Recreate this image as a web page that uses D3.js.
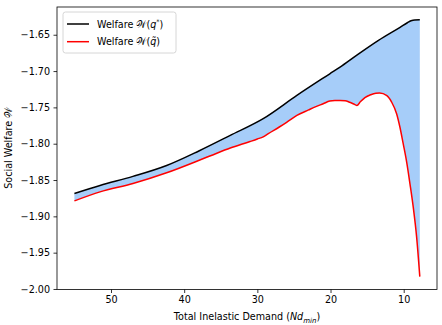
<!DOCTYPE html>
<html>
<head>
<meta charset="utf-8">
<script src="https://cdn.jsdelivr.net/npm/d3@7"></script>
<style>
  body { margin: 0; background: #fff; }
  text { font-family: "DejaVu Sans", sans-serif; }
</style>
</head>
<body>
<svg id="welfare-chart" width="442" height="325"></svg>
<script>
// welfare curves, x = total inelastic demand
const optX = [55, 51.5, 47, 42.4, 38, 33.7, 29.2, 24.6, 20.1, 18.7, 16.4, 13.5, 10.5, 9.5, 9.0, 8.5, 7.8];
const optW = [-1.8685, -1.8575, -1.845, -1.830, -1.810, -1.7885, -1.7655, -1.7335, -1.7037, -1.6945, -1.678, -1.658, -1.6397, -1.6335, -1.6308, -1.6296, -1.6295];

const estX = [55, 51.5, 47, 42.4, 36.5, 33.7, 31, 30, 29.2, 28.5, 27, 26, 24.6, 23, 22, 21, 20.1, 19.4, 18.7, 18, 17.5, 16.9, 16.4,
              15.9, 15.3, 14.5, 13.8, 13.3, 12.3, 11.65, 10.97, 10.52, 10.07, 9.6, 9.15, 8.7, 8.24, 7.8];
const estW = [-1.8787, -1.8663, -1.8548, -1.840, -1.817, -1.806, -1.797, -1.7935, -1.7905, -1.786, -1.777, -1.7705, -1.761, -1.7535, -1.749, -1.745, -1.7413, -1.7405, -1.7404, -1.741, -1.7425, -1.745, -1.7473,
              -1.742, -1.7365, -1.7325, -1.7305, -1.7302, -1.7338, -1.7427, -1.7587, -1.777, -1.800, -1.825, -1.8548, -1.887, -1.928, -1.983];

const xTicks = [50, 40, 30, 20, 10];
const yTicks = [-2.00, -1.95, -1.90, -1.85, -1.80, -1.75, -1.70, -1.65];

let svg = d3.select("#welfare-chart");
const mLeft = 57, mRight = 437, mTop = 7, mBottom = 289.5;

let x = d3.scaleLinear().domain([57.38, 5.45]).range([mLeft, mRight]);
let y = d3.scaleLinear().domain([-2.0007, -1.6118]).range([mBottom, mTop]);

let optLine = optX.map((v, i) => [v, optW[i]]);
let estLine = estX.map((v, i) => [v, estW[i]]);

// fill between the two curves
let area = d3.area()
   .x(d => x(d[0]))
   .y0(d => y(d[1]))
   .y1(d => y(d[2]))
   .curve(d3.curveMonotoneX);
let optAt = x0 => {
  let i = d3.bisector(d => -d[0]).left(optLine, -x0);
  if (i <= 0) return optLine[0][1];
  if (i >= optLine.length) return optLine[optLine.length - 1][1];
  let a = optLine[i - 1], b = optLine[i];
  return a[1] + (b[1] - a[1]) * (x0 - a[0]) / (b[0] - a[0]);
};
svg.append("path")
   .datum(estLine.map(d => [d[0], d[1], optAt(d[0])]))
   .attr("d", area)
   .attr("fill", "#a6cdf9")
   .attr("stroke", "none");

let line = d3.line().x(d => x(d[0])).y(d => y(d[1])).curve(d3.curveMonotoneX);

svg.append("path").attr("d", line(optLine))
   .attr("fill", "none").attr("stroke", "black").attr("stroke-width", 1.5);
svg.append("path").attr("d", line(estLine))
   .attr("fill", "none").attr("stroke", "red").attr("stroke-width", 1.5);

// axes
let xAxis = svg.append("g").attr("transform", `translate(0,${mBottom})`)
   .call(d3.axisBottom(x).tickValues(xTicks).tickSize(3.5).tickPadding(3.5));
let yAxis = svg.append("g").attr("transform", `translate(${mLeft},0)`)
   .call(d3.axisLeft(y).tickValues(yTicks).tickFormat(d3.format(".2f")).tickSize(3.5).tickPadding(3.5));
[xAxis, yAxis].forEach(g => {
  g.select(".domain").remove();
  g.selectAll("text").style("font-size", "9.6px").attr("fill", "#000");
  g.selectAll("line").attr("stroke", "#000").attr("stroke-width", 0.8);
});

svg.append("rect")
   .attr("x", mLeft).attr("y", mTop)
   .attr("width", mRight - mLeft).attr("height", mBottom - mTop)
   .attr("fill", "none").attr("stroke", "#000").attr("stroke-width", 0.8);

// axis labels
let xl = svg.append("text")
   .attr("x", (mLeft + mRight) / 2).attr("y", 320)
   .attr("text-anchor", "middle").style("font-size", "9.6px");
xl.append("tspan").text("Total Inelastic Demand (");
xl.append("tspan").style("font-style", "italic").text("Nd");
xl.append("tspan").style("font-style", "italic").style("font-size", "7px").attr("dy", 2.5).text("min");
xl.append("tspan").attr("dy", -2.5).text(")");

svg.append("text")
   .attr("transform", `translate(12,${(mTop + mBottom) / 2}) rotate(-90)`)
   .attr("text-anchor", "middle").style("font-size", "9.6px")
   .text("Social Welfare 𝒲");

// legend
let lg = svg.append("g");
lg.append("rect")
   .attr("x", 63).attr("y", 12).attr("width", 113).attr("height", 41).attr("rx", 2.5)
   .attr("fill", "white").attr("fill-opacity", 0.8)
   .attr("stroke", "#ccc").attr("stroke-width", 0.8);

let items = [["black", "q", "*"], ["red", "q̃", ""]];
items.forEach((it, i) => {
  let ly = 24 + i * 17.7;
  lg.append("line").attr("x1", 67).attr("x2", 89).attr("y1", ly).attr("y2", ly)
    .attr("stroke", it[0]).attr("stroke-width", 1.5);
  let t = lg.append("text").attr("x", 97).attr("y", ly + 3.5).style("font-size", "9.6px");
  t.append("tspan").text("Welfare 𝒲(");
  t.append("tspan").style("font-style", "italic").text(it[1]);
  if (it[2]) t.append("tspan").style("font-size", "6.5px").attr("dy", -4).text(it[2]);
  t.append("tspan").attr("dy", it[2] ? 4 : 0).text(")");
});
</script>
</body>
</html>
